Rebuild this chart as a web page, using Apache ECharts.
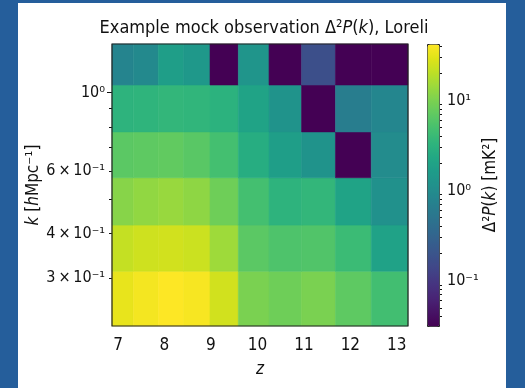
<!DOCTYPE html>
<html>
<head>
<meta charset="utf-8">
<script src="https://cdn.jsdelivr.net/npm/echarts@6/dist/echarts.min.js"></script>
<style>
  html, body { margin: 0; padding: 0; background: #255e9b; }
  #chart { position: absolute; left: 18px; top: 3px; width: 488px; height: 385px; background: #fff; }
</style>
</head>
<body>
<div id="chart"></div>
<script>
// bin edges
const zEdges = [6.871, 7.33, 7.87, 8.41, 8.98, 9.59, 10.25, 10.95, 11.68, 12.45, 13.24]
const kEdges = [0.220, 0.3137, 0.423, 0.575, 0.774, 1.049, 1.368]
// Δ²P(k) in mK², one row per k bin (low k first), one value per z bin
const powerK0 = [32.7, 37.8, 42.2, 39.2, 25.5, 10.0, 8.6, 10.0, 6.96, 4.68]
const powerK1 = [22.0, 24.5, 25.5, 23.7, 14.8, 6.7, 5.6, 5.8, 4.2, 1.97]
const powerK2 = [11.5, 12.9, 13.8, 12.4, 8.6, 4.85, 3.27, 3.64, 2.04, 1.15]
const powerK3 = [6.7, 6.96, 7.2, 6.5, 4.85, 2.73, 1.77, 1.23, 0.0314, 0.99]
const powerK4 = [3.27, 3.39, 3.64, 3.51, 3.15, 2.04, 1.23, 0.0314, 0.65, 0.86]
const powerK5 = [0.80, 0.92, 1.77, 1.43, 0.0314, 1.33, 0.0314, 0.176, 0.0314, 0.0314]
const power = [powerK0, powerK1, powerK2, powerK3, powerK4, powerK5]

const zTicks = [7, 8, 9, 10, 11, 12, 13]
const kLabelTicks = [0.3, 0.4, 0.6, 1]
const kLabelText = ['3\u2009×\u200910⁻¹', '4\u2009×\u200910⁻¹', '6\u2009×\u200910⁻¹', '10⁰']
const kMinorTicks = [0.3, 0.4, 0.5, 0.6, 0.7, 0.8, 0.9]
const cbTicks = [0.1, 1, 10]
const cbText = ['10⁻¹', '10⁰', '10¹']

const viridis = ['#440154', '#471365', '#482475', '#463480', '#414487', '#3b528b', '#355f8d',
  '#2f6c8e', '#2a788e', '#25848e', '#21918c', '#1e9c89', '#22a884', '#2fb47c', '#44bf70',
  '#5ec962', '#7ad151', '#9bd93c', '#bddf26', '#dfe318', '#fde725']

const lg = Math.log10
const font = 'DejaVu Sans Condensed'
const ink = '#111'

let cells = []
power.forEach((row, i) => {
  row.forEach((v, j) => {
    cells.push([zEdges[j], zEdges[j + 1], lg(kEdges[i]), lg(kEdges[i + 1]), lg(v)])
  })
})
let all = power.flat()
let cbMin = lg(Math.min(...all))
let cbMax = lg(Math.max(...all))

// minor ticks of the log colour bar
let cbMinor = []
for (let e = -2; e <= 1; e++) {
  for (let m = 2; m <= 9; m++) {
    let v = lg(m * Math.pow(10, e))
    if (v > cbMin && v < cbMax) cbMinor.push(v)
  }
}

function pick(ticks, texts) {
  return v => {
    let i = ticks.findIndex(t => Math.abs(lg(t) - v) < 1e-6)
    return i < 0 ? '' : texts[i]
  }
}

const rich = {
  it: { fontStyle: 'italic', fontFamily: font, fontSize: 17, color: ink }
}

let myChart = echarts.init(document.getElementById('chart'), null, { renderer: 'canvas' })
let option = {
  animation: false,
  title: {
    text: 'Example mock observation Δ²{it|P}({it|k}), Loreli',
    left: 241,
    top: 11,
    textAlign: 'center',
    textStyle: {
      fontFamily: font, fontSize: 18, fontWeight: 'normal', color: ink,
      rich: { it: { fontSize: 18, fontStyle: 'italic', fontFamily: font, color: ink } }
    }
  },
  grid: [
    { left: 94, top: 41, width: 296, height: 282, show: true, z: 5, outerBoundsMode: 'none',
      backgroundColor: 'transparent', borderColor: '#222', borderWidth: 1.2 },
    { left: 409, top: 41, width: 12, height: 282, outerBoundsMode: 'none' }
  ],
  xAxis: [
    {
      gridIndex: 0, type: 'value', min: zEdges[0], max: zEdges[zEdges.length - 1],
      name: 'z', nameLocation: 'middle', nameGap: 35,
      nameTextStyle: { fontFamily: font, fontSize: 17, fontStyle: 'italic', color: ink },
      axisLine: { show: false },
      splitLine: { show: false },
      axisTick: { show: true, length: 5, customValues: zTicks, lineStyle: { color: ink } },
      axisLabel: { customValues: zTicks, margin: 11, fontFamily: font, fontSize: 17, color: ink }
    },
    { gridIndex: 1, type: 'value', show: false, min: 0, max: 1 }
  ],
  yAxis: [
    {
      gridIndex: 0, type: 'value', min: lg(kEdges[0]), max: lg(kEdges[kEdges.length - 1]),
      name: '{it|k} [{it|h}Mpc⁻¹]', nameLocation: 'middle', nameGap: 70, nameRotate: 90,
      nameMoveOverlap: false,
      nameTextStyle: { fontFamily: font, fontSize: 17, color: ink, rich: rich },
      axisLine: { show: false },
      splitLine: { show: false },
      axisTick: { show: true, length: 5, customValues: [0], lineStyle: { color: ink } },
      axisLabel: {
        customValues: kLabelTicks.map(lg), margin: 7, fontFamily: font, fontSize: 16, color: ink,
        formatter: pick(kLabelTicks, kLabelText)
      }
    },
    {
      gridIndex: 0, type: 'value', min: lg(kEdges[0]), max: lg(kEdges[kEdges.length - 1]),
      position: 'left', axisLine: { show: false }, splitLine: { show: false },
      axisLabel: { show: false },
      axisTick: { show: true, length: 3, customValues: kMinorTicks.map(lg), lineStyle: { color: ink } }
    },
    {
      gridIndex: 1, type: 'value', min: cbMin, max: cbMax, position: 'right',
      name: 'Δ²{it|P}({it|k}) [mK²]', nameLocation: 'middle', nameGap: 43, nameRotate: 90,
      nameTextStyle: { fontFamily: font, fontSize: 17, color: ink, rich: rich },
      axisLine: { show: false }, splitLine: { show: false },
      axisTick: { show: true, length: 5, customValues: cbTicks.map(lg), lineStyle: { color: ink } },
      axisLabel: {
        customValues: cbTicks.map(lg), margin: 8, fontFamily: font, fontSize: 16, color: ink,
        formatter: pick(cbTicks, cbText)
      }
    },
    {
      gridIndex: 1, type: 'value', min: cbMin, max: cbMax, position: 'right',
      axisLine: { show: false }, splitLine: { show: false }, axisLabel: { show: false },
      axisTick: { show: true, length: 3, customValues: cbMinor, lineStyle: { color: ink } }
    }
  ],
  visualMap: {
    type: 'continuous',
    seriesIndex: 0,
    dimension: 4,
    min: cbMin,
    max: cbMax,
    inRange: { color: viridis },
    left: 409,
    top: 41,
    itemWidth: 12,
    itemHeight: 282,
    padding: 0,
    calculable: false,
    hoverLink: false,
    borderColor: '#222',
    borderWidth: 1
  },
  series: [
    {
      type: 'custom',
      xAxisIndex: 0,
      yAxisIndex: 0,
      z: 2,
      encode: { x: [0, 1], y: [2, 3] },
      data: cells,
      renderItem: (params, api) => {
        let p0 = api.coord([api.value(0), api.value(3)])
        let p1 = api.coord([api.value(1), api.value(2)])
        let c = api.visual('color')
        return {
          type: 'rect',
          shape: { x: p0[0], y: p0[1], width: p1[0] - p0[0], height: p1[1] - p0[1] },
          style: { fill: c, stroke: c, lineWidth: 0.6 }
        }
      }
    }
  ]
}
myChart.setOption(option)
</script>
</body>
</html>
